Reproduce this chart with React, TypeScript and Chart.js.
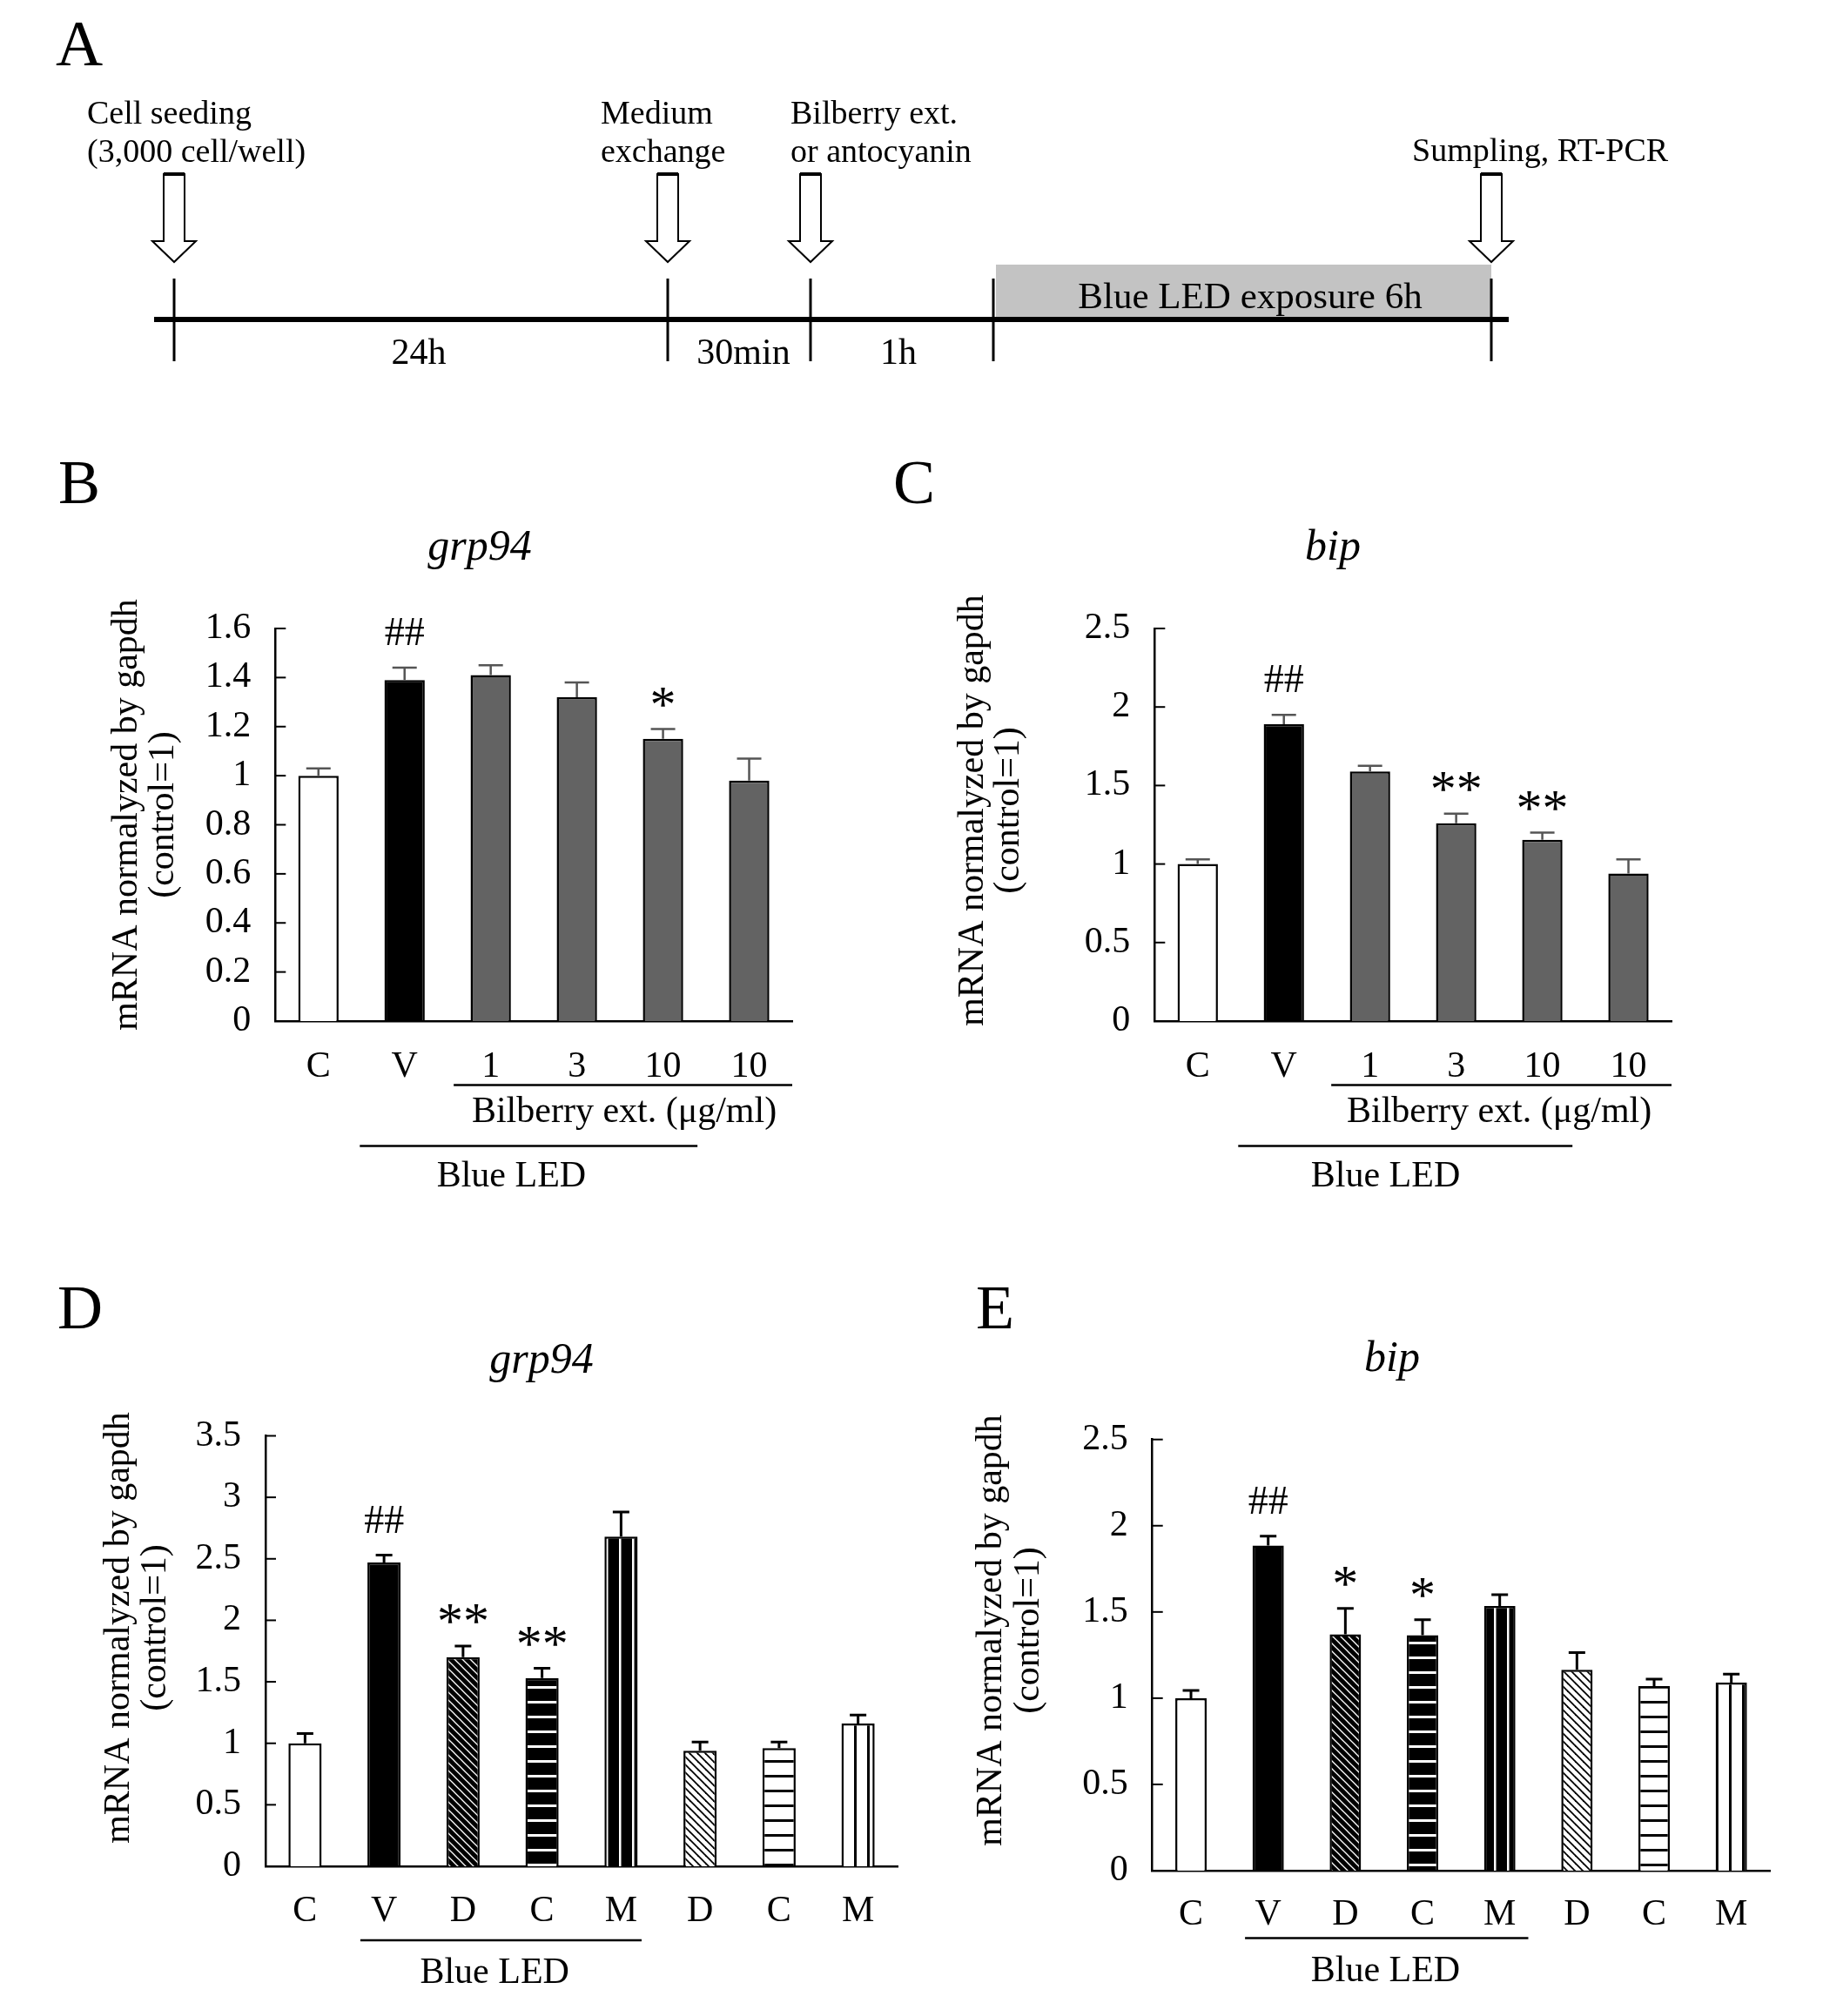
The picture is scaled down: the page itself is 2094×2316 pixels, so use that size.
import React, { useEffect, useRef } from 'react';
import { Chart, registerables } from 'chart.js';

Chart.register(...registerables);

const SERIF = '"Liberation Serif", "Times New Roman", Times, serif';

// ---------------- Panel A (timeline) ----------------
const stepLabels: string[][] = [
  ['Cell seeding', '(3,000 cell/well)'],
  ['Medium', 'exchange'],
  ['Bilberry ext.', 'or antocyanin'],
  ['Sumpling, RT-PCR'],
];
const intervalLabels = ['24h', '30min', '1h'];
const exposureLabel = 'Blue LED exposure 6h';

// ---------------- Panel B : grp94, bilberry ----------------
const categoriesB = ['C', 'V', '1', '3', '10', '10'];
const grp94B = [1.0, 1.39, 1.41, 1.32, 1.15, 0.98];
const grp94ErrB = [0.03, 0.05, 0.04, 0.06, 0.04, 0.09];
const signifB = ['', '##', '', '', '*', ''];

// ---------------- Panel C : bip, bilberry ----------------
const categoriesC = ['C', 'V', '1', '3', '10', '10'];
const bipC = [1.0, 1.89, 1.59, 1.26, 1.155, 0.94];
const bipErrC = [0.03, 0.06, 0.035, 0.06, 0.045, 0.09];
const signifC = ['', '##', '', '**', '**', ''];

// ---------------- Panel D : grp94, anthocyanins ----------------
const categoriesD = ['C', 'V', 'D', 'C', 'M', 'D', 'C', 'M'];
const grp94D = [1.0, 2.47, 1.7, 1.53, 2.68, 0.94, 0.96, 1.16];
const grp94ErrD = [0.08, 0.06, 0.09, 0.08, 0.2, 0.07, 0.05, 0.07];
const signifD = ['', '##', '**', '**', '', '', '', ''];

// ---------------- Panel E : bip, anthocyanins ----------------
const categoriesE = ['C', 'V', 'D', 'C', 'M', 'D', 'C', 'M'];
const bipE = [1.0, 1.885, 1.37, 1.365, 1.535, 1.165, 1.07, 1.09];
const bipErrE = [0.045, 0.055, 0.15, 0.09, 0.065, 0.1, 0.04, 0.05];
const signifE = ['', '##', '*', '*', '', '', '', ''];

const yAxisTitle = ['mRNA normalyzed by gapdh', '(control=1)'];

// ---------------- layout (page pixels) ----------------
type Group = { from: number; to: number; lineY: number; text: string; at: number; textY: number };
type Panel = {
  box: { x: number; y: number; w: number; h: number };
  area: { l: number; r: number; t: number; b: number };
  cats: string[]; means: number[]; errs: number[]; sig: string[];
  fillKeys: string[];
  yMax: number; yStep: number; barPct: number; borderW: number;
  errColor: string; errW: number; cap: number; xPad: number;
  letter: string; letterX: number; letterY: number;
  title: string; titleX: number; titleY: number;
  yTitleX: number[]; yTitleCY: number;
  groups: Group[];
};

const panels: Panel[] = [
  {
    box: { x: 0, y: 480, w: 1000, h: 940 },
    area: { l: 316.3, r: 910, t: 722, b: 1173 },
    cats: categoriesB, means: grp94B, errs: grp94ErrB, sig: signifB,
    fillKeys: ['white', 'black', 'gray', 'gray', 'gray', 'gray'],
    yMax: 1.6, yStep: 0.2, barPct: 0.468, borderW: 2.5,
    errColor: '#555555', errW: 2.5, cap: 28, xPad: 28,
    letter: 'B', letterX: 67, letterY: 578,
    title: 'grp94', titleX: 551, titleY: 643,
    yTitleX: [157, 199], yTitleCY: 936,
    groups: [
      { from: 2.07, to: 6.0, lineY: 1246.6, text: 'Bilberry ext. (\u03bcg/ml)', at: 4.05, textY: 1289 },
      { from: 0.98, to: 4.9, lineY: 1316.6, text: 'Blue LED', at: 2.74, textY: 1363 },
    ],
  },
  {
    box: { x: 1000, y: 480, w: 1094, h: 940 },
    area: { l: 1326.3, r: 1920, t: 722, b: 1173 },
    cats: categoriesC, means: bipC, errs: bipErrC, sig: signifC,
    fillKeys: ['white', 'black', 'gray', 'gray', 'gray', 'gray'],
    yMax: 2.5, yStep: 0.5, barPct: 0.468, borderW: 2.5,
    errColor: '#555555', errW: 2.5, cap: 28, xPad: 28,
    letter: 'C', letterX: 1026, letterY: 578,
    title: 'bip', titleX: 1531, titleY: 643,
    yTitleX: [1129, 1170], yTitleCY: 931,
    groups: [
      { from: 2.05, to: 6.0, lineY: 1246.6, text: 'Bilberry ext. (\u03bcg/ml)', at: 4.0, textY: 1289 },
      { from: 0.97, to: 4.85, lineY: 1316.6, text: 'Blue LED', at: 2.68, textY: 1363 },
    ],
  },
  {
    box: { x: 0, y: 1420, w: 1080, h: 896 },
    area: { l: 305, r: 1031, t: 1649.5, b: 2144 },
    cats: categoriesD, means: grp94D, errs: grp94ErrD, sig: signifD,
    fillKeys: ['white', 'black', 'darkDiag', 'darkHoriz', 'darkVert', 'lightDiag', 'lightHoriz', 'lightVert'],
    yMax: 3.5, yStep: 0.5, barPct: 0.42, borderW: 2.5,
    errColor: '#000000', errW: 3, cap: 19, xPad: 27,
    letter: 'D', letterX: 66, letterY: 1526,
    title: 'grp94', titleX: 622, titleY: 1577,
    yTitleX: [148, 190], yTitleCY: 1870,
    groups: [{ from: 1.2, to: 4.76, lineY: 2229, text: 'Blue LED', at: 2.9, textY: 2278 }],
  },
  {
    box: { x: 1080, y: 1420, w: 1014, h: 896 },
    area: { l: 1323.7, r: 2033, t: 1653.7, b: 2149 },
    cats: categoriesE, means: bipE, errs: bipErrE, sig: signifE,
    fillKeys: ['white', 'black', 'darkDiag', 'darkHoriz', 'darkVert', 'lightDiag', 'lightHoriz', 'lightVert'],
    yMax: 2.5, yStep: 0.5, barPct: 0.406, borderW: 2.5,
    errColor: '#000000', errW: 3, cap: 19, xPad: 26,
    letter: 'E', letterX: 1121, letterY: 1526,
    title: 'bip', titleX: 1599, titleY: 1575,
    yTitleX: [1150, 1193], yTitleCY: 1873,
    groups: [{ from: 1.2, to: 4.87, lineY: 2226.5, text: 'Blue LED', at: 3.02, textY: 2276 }],
  },
];

// Panel A layout
const A_BOX = { x: 0, y: 0, w: 2094, h: 480 };
const A_MARKS = [200, 767, 931, 1141, 1713];
const A_ARROW_MARKS = [0, 1, 2, 4];
const A_TEXT_X = [100, 690, 908, 1622];
const A_INTERVAL_X = [481, 854, 1032];

function makeFill(kind: string): string | CanvasPattern {
  if (kind === 'white') return '#ffffff';
  if (kind === 'black') return '#000000';
  if (kind === 'gray') return '#636363';
  const c = document.createElement('canvas');
  const g = c.getContext('2d') as CanvasRenderingContext2D;
  const dark = kind.startsWith('dark');
  const bg = dark ? '#000000' : '#ffffff';
  const fg = dark ? '#ffffff' : '#000000';
  if (kind.endsWith('Diag')) {
    const p = 9;
    c.width = p; c.height = p;
    g.fillStyle = bg; g.fillRect(0, 0, p, p);
    g.strokeStyle = fg; g.lineWidth = dark ? 1.3 : 1.8;
    for (const k of [-1, 0, 1]) {
      g.beginPath(); g.moveTo(-2, -2 + k * p); g.lineTo(p + 2, p + 2 + k * p); g.stroke();
    }
  } else if (kind.endsWith('Horiz')) {
    c.width = 4; c.height = 17;
    g.fillStyle = bg; g.fillRect(0, 0, 4, 17);
    g.fillStyle = fg; g.fillRect(0, 7, 4, 3);
  } else {
    c.width = 15; c.height = 4;
    g.fillStyle = bg; g.fillRect(0, 0, 15, 4);
    g.fillStyle = fg; g.fillRect(6, 0, dark ? 2.5 : 3, 4);
  }
  return g.createPattern(c, 'repeat') as CanvasPattern;
}

function panelPlugin(p: Panel) {
  return {
    id: 'panelDecor',
    afterDatasetsDraw(chart: any) {
      const ctx: CanvasRenderingContext2D = chart.ctx;
      const xs = chart.scales.x;
      const ys = chart.scales.y;
      const ox = p.box.x, oy = p.box.y;
      const n = p.cats.length;
      const catW = (xs.right - xs.left) / n;
      const cx = (u: number) => xs.left + u * catW;
      ctx.save();
      // inward y ticks
      ctx.strokeStyle = '#000'; ctx.lineWidth = 2;
      ys.ticks.forEach((t: any) => {
        const py = ys.getPixelForValue(t.value);
        ctx.beginPath(); ctx.moveTo(xs.left, py); ctx.lineTo(xs.left + 12, py); ctx.stroke();
      });
      // error bars + significance
      const meta = chart.getDatasetMeta(0);
      meta.data.forEach((bar: any, i: number) => {
        const top = ys.getPixelForValue(p.means[i] + p.errs[i]);
        ctx.strokeStyle = p.errColor; ctx.lineWidth = p.errW;
        ctx.beginPath();
        ctx.moveTo(bar.x, bar.y); ctx.lineTo(bar.x, top);
        ctx.moveTo(bar.x - p.cap / 2, top); ctx.lineTo(bar.x + p.cap / 2, top);
        ctx.stroke();
        const s = p.sig[i];
        if (s) {
          ctx.fillStyle = '#000';
          ctx.textAlign = 'center'; ctx.textBaseline = 'alphabetic';
          if (s.includes('#')) {
            ctx.font = `46px ${SERIF}`;
            ctx.fillText(s, bar.x, top - 26);
          } else {
            ctx.font = `60px ${SERIF}`;
            ctx.fillText(s, bar.x, top - 26 + 17);
          }
        }
      });
      // group lines and labels
      ctx.fillStyle = '#000'; ctx.strokeStyle = '#000'; ctx.lineWidth = 2.5;
      ctx.font = `42px ${SERIF}`; ctx.textAlign = 'center'; ctx.textBaseline = 'alphabetic';
      p.groups.forEach((g) => {
        const ly = g.lineY - oy;
        ctx.beginPath(); ctx.moveTo(cx(g.from), ly); ctx.lineTo(cx(g.to), ly); ctx.stroke();
        ctx.fillText(g.text, cx(g.at), g.textY - oy);
      });
      // panel letter
      ctx.textAlign = 'left';
      ctx.font = `72px ${SERIF}`;
      ctx.fillText(p.letter, p.letterX - ox, p.letterY - oy);
      // title
      ctx.textAlign = 'center';
      ctx.font = `italic 50px ${SERIF}`;
      ctx.fillText(p.title, p.titleX - ox, p.titleY - oy);
      // y axis title
      ctx.font = `42px ${SERIF}`;
      yAxisTitle.forEach((line, k) => {
        ctx.save();
        ctx.translate(p.yTitleX[k] - ox, p.yTitleCY - oy);
        ctx.rotate(-Math.PI / 2);
        ctx.textAlign = 'center'; ctx.textBaseline = 'alphabetic';
        ctx.fillText(line, 0, 0);
        ctx.restore();
      });
      ctx.restore();
    },
  };
}

function createBarChart(canvas: HTMLCanvasElement, p: Panel) {
  const fills = p.fillKeys.map(makeFill);
  const padTop = p.area.t - p.box.y;
  const padRight = p.box.x + p.box.w - p.area.r;
  const yW = p.area.l - p.box.x;
  const xH = p.box.y + p.box.h - p.area.b;
  return new Chart(canvas, {
    type: 'bar',
    data: {
      labels: p.cats,
      datasets: [{
        data: p.means,
        backgroundColor: fills as any,
        borderColor: '#000000',
        borderWidth: p.borderW,
        barPercentage: p.barPct,
        categoryPercentage: 1,
      }],
    },
    options: {
      animation: false,
      responsive: false,
      devicePixelRatio: 1,
      layout: { padding: { left: 0, top: padTop, right: padRight, bottom: 0 } },
      plugins: { legend: { display: false }, tooltip: { enabled: false }, title: { display: false } },
      scales: {
        x: {
          offset: true,
          grid: { display: false, drawTicks: false },
          border: { display: true, color: '#000000', width: 2.5 },
          ticks: { color: '#000000', font: { family: SERIF, size: 42 }, padding: p.xPad, maxRotation: 0, autoSkip: false },
          afterFit: (s: any) => { s.height = xH; },
        },
        y: {
          min: 0,
          max: p.yMax,
          grid: { display: false, drawTicks: false },
          border: { display: true, color: '#000000', width: 2.5 },
          ticks: {
            stepSize: p.yStep,
            color: '#000000',
            font: { family: SERIF, size: 42 },
            padding: 28,
            callback: (v: any) => String(Math.round(Number(v) * 100) / 100),
          },
          afterFit: (s: any) => { s.width = yW; },
        },
      },
    } as any,
    plugins: [panelPlugin(p) as any],
  });
}

const timelinePlugin = {
  id: 'timeline',
  afterDraw(chart: any) {
    const ctx: CanvasRenderingContext2D = chart.ctx;
    const xs = chart.scales.x;
    const ys = chart.scales.y;
    const X = (v: number) => xs.getPixelForValue(v);
    const Y = (v: number) => ys.getPixelForValue(v);
    ctx.save();
    // panel letter
    ctx.fillStyle = '#000';
    ctx.font = `75px ${SERIF}`;
    ctx.textAlign = 'left'; ctx.textBaseline = 'alphabetic';
    ctx.fillText('A', X(64), Y(75));
    // gray exposure box
    ctx.fillStyle = '#c3c3c3';
    ctx.fillRect(X(A_MARKS[3] + 3), Y(304), X(A_MARKS[4]) - X(A_MARKS[3] + 3), Y(365) - Y(304));
    ctx.fillStyle = '#000';
    ctx.font = `43px ${SERIF}`;
    ctx.textAlign = 'center';
    ctx.fillText(exposureLabel, X(1436), Y(354));
    // timeline
    ctx.strokeStyle = '#000';
    ctx.lineWidth = 6;
    ctx.beginPath(); ctx.moveTo(X(177), Y(367)); ctx.lineTo(X(1733), Y(367)); ctx.stroke();
    ctx.lineWidth = 3;
    A_MARKS.forEach((m) => {
      ctx.beginPath(); ctx.moveTo(X(m), Y(320)); ctx.lineTo(X(m), Y(415)); ctx.stroke();
    });
    // interval labels
    ctx.font = `42px ${SERIF}`;
    intervalLabels.forEach((t, i) => ctx.fillText(t, X(A_INTERVAL_X[i]), Y(418)));
    // arrows
    A_ARROW_MARKS.forEach((mi) => {
      const c = X(A_MARKS[mi]);
      ctx.beginPath();
      ctx.moveTo(c - 12, Y(200)); ctx.lineTo(c + 12, Y(200)); ctx.lineTo(c + 12, Y(277));
      ctx.lineTo(c + 25, Y(277)); ctx.lineTo(c, Y(301)); ctx.lineTo(c - 25, Y(277));
      ctx.lineTo(c - 12, Y(277)); ctx.closePath();
      ctx.fillStyle = '#fff'; ctx.fill();
      ctx.lineWidth = 2; ctx.strokeStyle = '#000'; ctx.stroke();
      ctx.lineWidth = 4;
      ctx.beginPath(); ctx.moveTo(c - 12, Y(200)); ctx.lineTo(c + 12, Y(200)); ctx.stroke();
    });
    // step labels
    ctx.fillStyle = '#000';
    ctx.font = `38px ${SERIF}`;
    ctx.textAlign = 'left';
    stepLabels.forEach((lines, i) => {
      if (lines.length === 1) {
        ctx.fillText(lines[0], X(A_TEXT_X[i]), Y(185));
      } else {
        ctx.fillText(lines[0], X(A_TEXT_X[i]), Y(142));
        ctx.fillText(lines[1], X(A_TEXT_X[i]), Y(186));
      }
    });
    ctx.restore();
  },
};

function createTimeline(canvas: HTMLCanvasElement) {
  return new Chart(canvas, {
    type: 'scatter',
    data: { datasets: [{ data: [] }] },
    options: {
      animation: false,
      responsive: false,
      devicePixelRatio: 1,
      layout: { padding: 0 },
      plugins: { legend: { display: false }, tooltip: { enabled: false } },
      scales: {
        x: { type: 'linear', min: 0, max: A_BOX.w, display: false },
        y: { type: 'linear', min: 0, max: A_BOX.h, reverse: true, display: false },
      },
    } as any,
    plugins: [timelinePlugin as any],
  });
}

export default function App() {
  const aRef = useRef<HTMLCanvasElement>(null);
  const r0 = useRef<HTMLCanvasElement>(null);
  const r1 = useRef<HTMLCanvasElement>(null);
  const r2 = useRef<HTMLCanvasElement>(null);
  const r3 = useRef<HTMLCanvasElement>(null);
  const refs = [r0, r1, r2, r3];

  useEffect(() => {
    const charts: Chart[] = [];
    if (aRef.current) charts.push(createTimeline(aRef.current));
    panels.forEach((p, i) => {
      const c = refs[i].current;
      if (c) charts.push(createBarChart(c, p));
    });
    return () => charts.forEach((c) => c.destroy());
  }, []);

  return (
    <div style={{ position: 'absolute', left: 0, top: 0, width: 2094, height: 2316, background: '#ffffff' }}>
      <canvas
        ref={aRef}
        width={A_BOX.w}
        height={A_BOX.h}
        style={{ position: 'absolute', left: A_BOX.x, top: A_BOX.y, width: A_BOX.w, height: A_BOX.h }}
      />
      {panels.map((p, i) => (
        <canvas
          key={i}
          ref={refs[i]}
          width={p.box.w}
          height={p.box.h}
          style={{ position: 'absolute', left: p.box.x, top: p.box.y, width: p.box.w, height: p.box.h }}
        />
      ))}
    </div>
  );
}
